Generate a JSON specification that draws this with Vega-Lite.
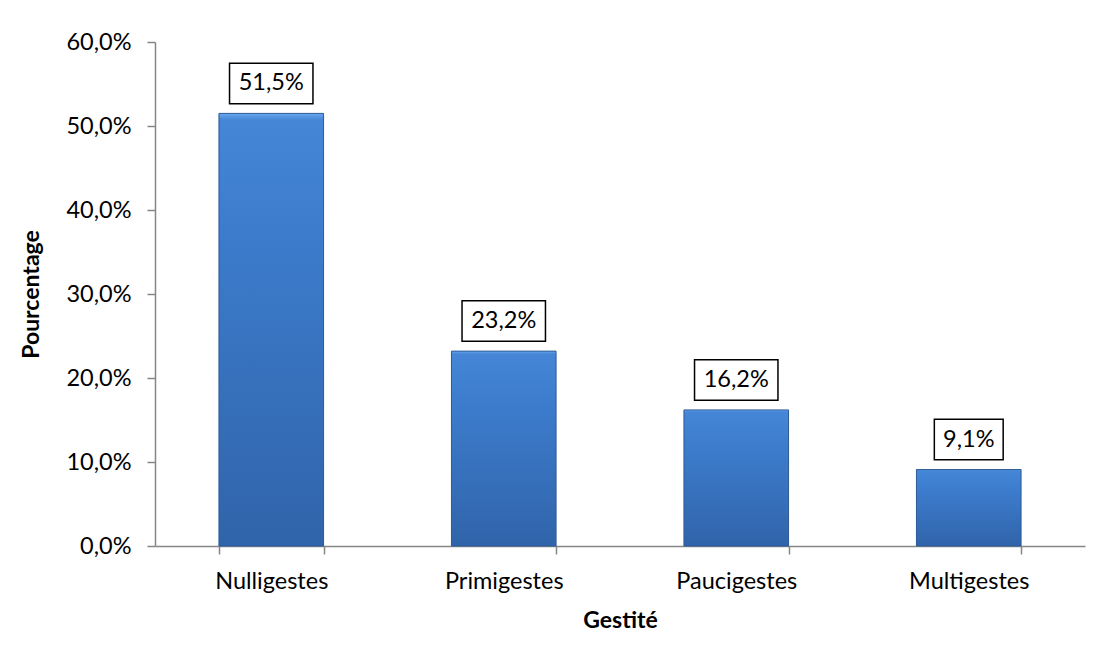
{
  "$schema": "https://vega.github.io/schema/vega-lite/v6.json",
  "autosize": "none",
  "width": 930,
  "height": 504,
  "padding": {"left": 155, "top": 42, "right": 14, "bottom": 109},
  "background": "white",
  "config": {
    "locale": {"number": {"decimal": ",", "thousands": " ", "grouping": [3], "currency": ["", " €"]}},
    "view": {"stroke": null},
    "font": "Lato",
    "axis": {"labelFont": "Lato", "titleFont": "Lato", "labelColor": "#000000", "titleColor": "#000000", "domainColor": "#868686", "tickColor": "#868686", "domainWidth": 1.5, "tickWidth": 1.5, "labelFontSize": 23.5, "titleFontSize": 23, "titleFontWeight": "bold", "grid": false}
  },
  "data": {"values": [
    {"g": "Nulligestes", "v": 0.515},
    {"g": "Primigestes", "v": 0.232},
    {"g": "Paucigestes", "v": 0.162},
    {"g": "Multigestes", "v": 0.091}
  ]},
  "encoding": {
    "x": {"field": "g", "type": "nominal", "sort": null, "title": "Gestité",
      "scale": {"paddingInner": 0.55, "paddingOuter": 0.275},
      "axis": {"labelAngle": 0, "tickBand": "extent", "tickSize": 8, "labelPadding": 15, "titlePadding": 17}},
    "y": {"field": "v", "type": "quantitative", "title": "Pourcentage",
      "scale": {"domain": [0, 0.6]},
      "axis": {"values": [0, 0.1, 0.2, 0.3, 0.4, 0.5, 0.6], "format": ".1%", "tickSize": 8, "labelPadding": 16, "titlePadding": 22}}
  },
  "layer": [
    {"mark": {"type": "bar",
      "fill": {"gradient": "linear", "x1": 0, "y1": 0, "x2": 0, "y2": 1,
        "stops": [{"offset": 0, "color": "#6aa6ee"}, {"offset": 0.015, "color": "#4586d6"}, {"offset": 0.3, "color": "#3c7bcb"}, {"offset": 1, "color": "#3064aa"}]},
      "stroke": "#2c5a96", "strokeWidth": 1}},
    {"mark": {"type": "point", "filled": true, "fill": "white", "stroke": "black", "strokeWidth": 1.5, "opacity": 1, "size": 1640, "yOffset": -30},
      "encoding": {"shape": {"condition": {"test": "datum.v < 0.1", "value": "M-1.7,-1H1.7V1H-1.7Z"}, "value": "M-2.06,-1H2.06V1H-2.06Z"}}},
    {"mark": {"type": "text", "fontSize": 23.5, "font": "Lato", "color": "black", "yOffset": -30, "baseline": "middle"},
      "encoding": {"text": {"field": "v", "type": "quantitative", "format": ".1%"}}}
  ]
}
